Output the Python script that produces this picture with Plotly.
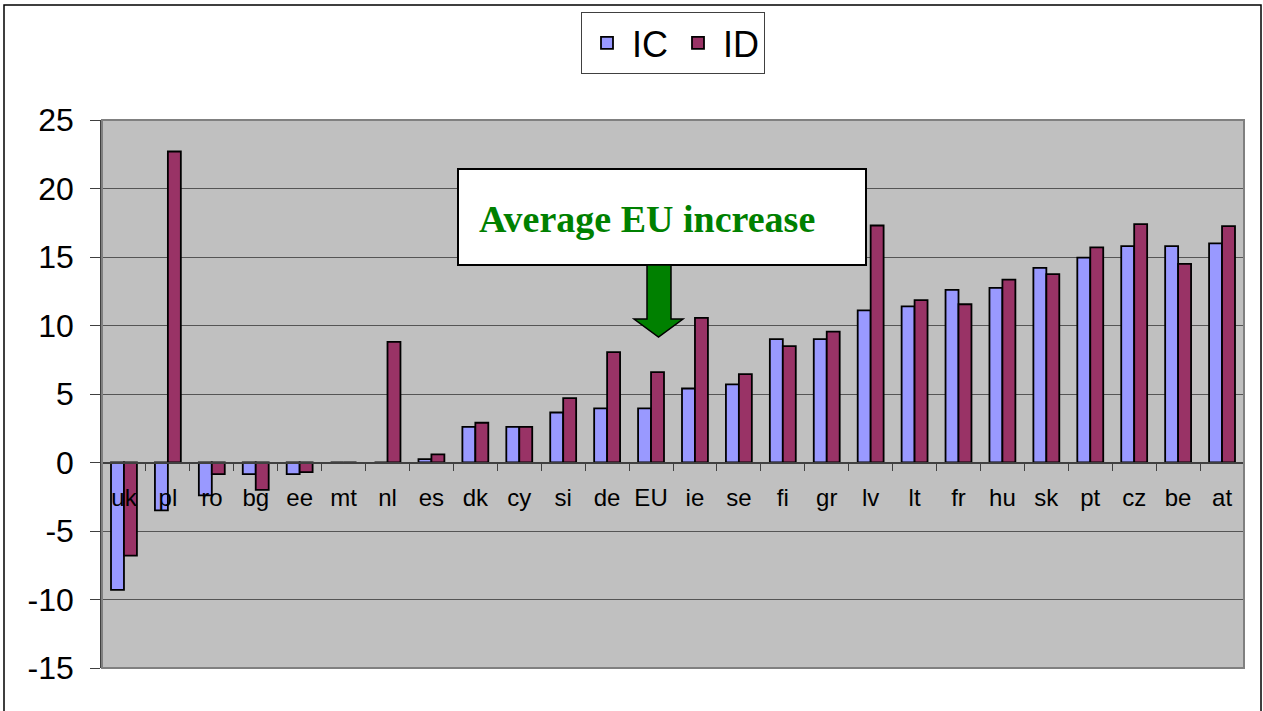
import plotly.graph_objects as go

categories = ["uk", "pl", "ro", "bg", "ee", "mt", "nl", "es", "dk", "cy", "si", "de", "EU",
              "ie", "se", "fi", "gr", "lv", "lt", "fr", "hu", "sk", "pt", "cz", "be", "at"]
ic_values = [-9.3, -3.5, -2.4, -0.85, -0.85, 0, 0, 0.25, 2.6, 2.6, 3.65, 3.95, 3.95,
             5.4, 5.7, 9.0, 9.0, 11.1, 11.4, 12.6, 12.75, 14.2, 14.95, 15.8, 15.8, 16.0]
id_values = [-6.8, 22.7, -0.85, -2.0, -0.7, 0, 8.8, 0.6, 2.9, 2.6, 4.7, 8.05, 6.6,
             10.55, 6.45, 8.5, 9.55, 17.3, 11.85, 11.55, 13.35, 13.75, 15.7, 17.4, 14.5, 17.25]
y_ticks = [-15, -10, -5, 0, 5, 10, 15, 20, 25]

W, H = 1263, 711
L, R, T, B = 102, 1244, 120, 668  # plot area in pixels


def px(x):
    return (x - L) / (R - L)


def py(y):
    return (B - y) / (B - T)


fig = go.Figure()
fig.add_trace(go.Bar(name="IC", x=categories, y=ic_values,
                     marker=dict(color="#9999FF", line=dict(color="black", width=1.8))))
fig.add_trace(go.Bar(name="ID", x=categories, y=id_values,
                     marker=dict(color="#993366", line=dict(color="black", width=1.8))))

shapes = []
# outer frame
shapes.append(dict(type="rect", xref="paper", yref="paper",
                   x0=px(4), x1=px(1261), y0=py(720), y1=py(5),
                   line=dict(color="black", width=1.5), fillcolor="rgba(0,0,0,0)", layer="above"))
# plot area border
shapes.append(dict(type="rect", xref="paper", yref="paper",
                   x0=0, x1=1, y0=0, y1=1,
                   line=dict(color="#808080", width=2), fillcolor="rgba(0,0,0,0)", layer="above"))
# annotation box
shapes.append(dict(type="rect", xref="paper", yref="paper",
                   x0=px(458), x1=px(866), y0=py(265), y1=py(169),
                   line=dict(color="black", width=2), fillcolor="white", layer="above"))
# block arrow
pts = [(647, 265), (671, 265), (671, 319), (683, 319), (658.5, 337), (634, 319), (647, 319)]
path = "M " + " L ".join(f"{px(a):.5f},{py(b):.5f}" for a, b in pts) + " Z"
shapes.append(dict(type="path", xref="paper", yref="paper", path=path,
                   line=dict(color="black", width=1.5), fillcolor="#008000", layer="above"))

fig.update_layout(
    width=W, height=H,
    margin=dict(l=L, r=W - R, t=T, b=H - B),
    paper_bgcolor="white",
    plot_bgcolor="#C0C0C0",
    barmode="group",
    bargap=0.41,
    bargroupgap=0,
    font=dict(family="Liberation Sans, Arial, sans-serif", color="black"),
    showlegend=True,
    legend=dict(orientation="h", x=0.5, xanchor="center", y=py(12), yanchor="top",
                font=dict(size=36, family="Liberation Sans, Arial, sans-serif"),
                bordercolor="#404040", borderwidth=1, bgcolor="white",
                itemwidth=40, tracegroupgap=0),
    shapes=shapes,
    annotations=[dict(text="<b>Average EU increase</b>", xref="paper", yref="paper",
                      x=px(477), y=py(219), xanchor="left", yanchor="middle",
                      showarrow=False,
                      font=dict(family="Liberation Serif, Times New Roman, serif",
                                size=38, color="#008000"))],
)

fig.update_yaxes(range=[-15, 25], tickvals=y_ticks, ticktext=[str(v) for v in y_ticks],
                 showgrid=True, gridcolor="#555555", gridwidth=1,
                 zeroline=False, showline=True, linecolor="#404040", linewidth=1.5,
                 ticks="outside", ticklen=10, tickcolor="#404040",
                 tickfont=dict(size=32), ticklabelstandoff=10)
fig.update_xaxes(type="category", anchor="free", position=0.375,
                 showgrid=False, zeroline=False, showline=True, linecolor="#404040",
                 linewidth=1.5, ticks="outside", ticklen=8, tickcolor="#404040",
                 tickson="boundaries", tickfont=dict(size=24), ticklabelstandoff=14)

fig.write_html("out.html", config={"displayModeBar": False},
               post_script="document.body.style.margin='0';document.body.style.overflow='hidden';")
